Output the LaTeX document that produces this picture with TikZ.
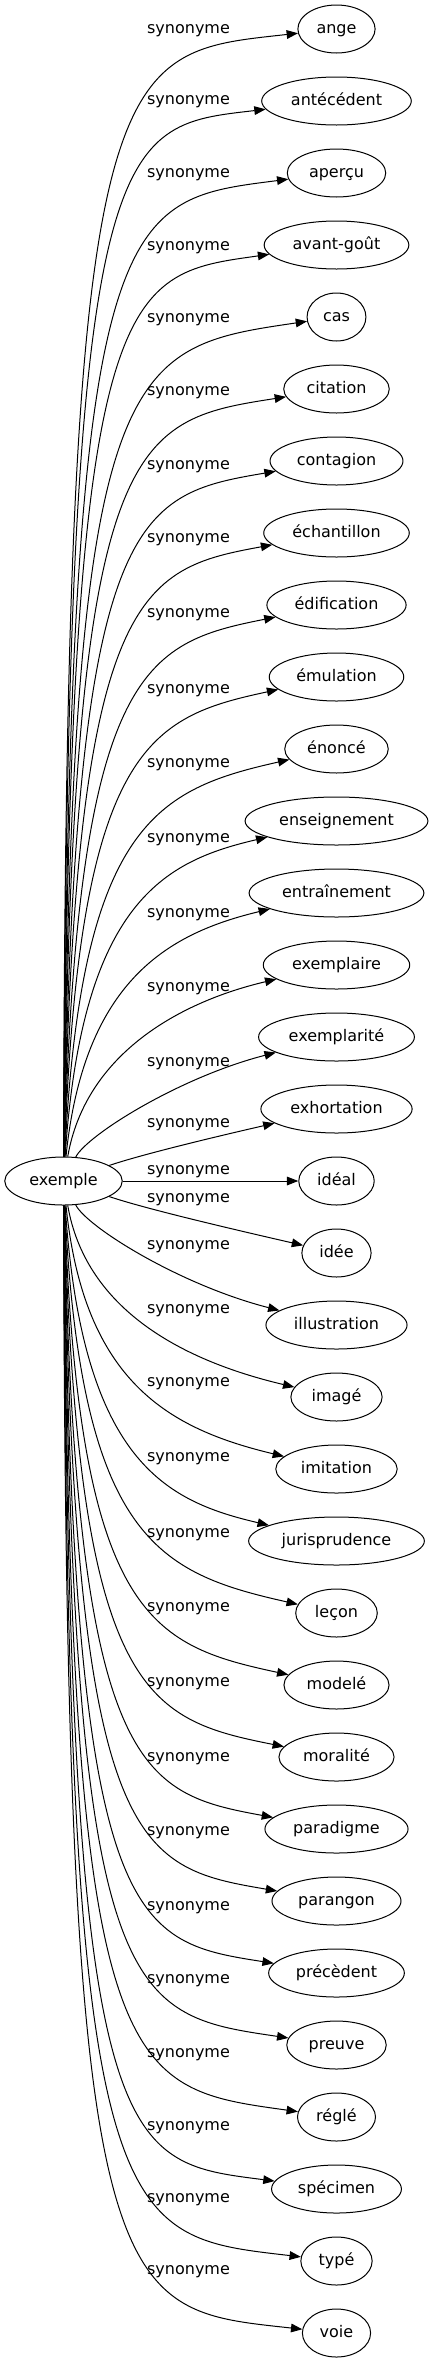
\documentclass[tikz,border=0pt]{standalone}
\usepackage{fontspec}
\setmainfont{DejaVu Sans}
\usetikzlibrary{shapes.geometric,arrows.meta}
\begin{document}
\begin{tikzpicture}
	[x=0.75pt,y=-0.75pt,
	 word/.style={ellipse,draw,line width=0.75pt,inner xsep=5.5pt,minimum height=36pt,text height=9pt,text depth=2.5pt,font=\fontsize{12pt}{14pt}\selectfont},
	 lbl/.style={inner sep=0pt,text height=9pt,text depth=2.5pt,font=\fontsize{12pt}{14pt}\selectfont},
	 syn/.style={line width=0.75pt,-{Triangle[length=8.5pt,width=6.5pt]}}]
    \useasboundingbox (0,0) rectangle (432,2363);

    \node[word] (ex) at (63.5,1181) {exemple};

    \node[word] (ange) at (336.5,29) {ange};
    \node[word] (antecedent) at (336.5,101) {antécédent};
    \node[word] (apercu) at (336.5,173) {aperçu};
    \node[word] (avantgout) at (336.5,245) {avant-goût};
    \node[word] (cas) at (336.5,317) {cas};
    \node[word] (citation) at (336.5,389) {citation};
    \node[word] (contagion) at (336.5,461) {contagion};
    \node[word] (echantillon) at (336.5,533) {échantillon};
    \node[word] (edification) at (336.5,605) {édification};
    \node[word] (emulation) at (336.5,677) {émulation};
    \node[word] (enonce) at (336.5,749) {énoncé};
    \node[word] (enseignement) at (336.5,821) {enseignement};
    \node[word] (entrainement) at (336.5,893) {entraînement};
    \node[word] (exemplaire) at (336.5,965) {exemplaire};
    \node[word] (exemplarite) at (336.5,1037) {exemplarité};
    \node[word] (exhortation) at (336.5,1109) {exhortation};
    \node[word] (ideal) at (336.5,1181) {idéal};
    \node[word] (idee) at (336.5,1253) {idée};
    \node[word] (illustration) at (336.5,1325) {illustration};
    \node[word] (image) at (336.5,1397) {imagé};
    \node[word] (imitation) at (336.5,1469) {imitation};
    \node[word] (jurisprudence) at (336.5,1541) {jurisprudence};
    \node[word] (lecon) at (336.5,1613) {leçon};
    \node[word] (modele) at (336.5,1685) {modelé};
    \node[word] (moralite) at (336.5,1757) {moralité};
    \node[word] (paradigme) at (336.5,1829) {paradigme};
    \node[word] (parangon) at (336.5,1901) {parangon};
    \node[word] (precedent) at (336.5,1973) {précèdent};
    \node[word] (preuve) at (336.5,2045) {preuve};
    \node[word] (regle) at (336.5,2117) {réglé};
    \node[word] (specimen) at (336.5,2189) {spécimen};
    \node[word] (type) at (336.5,2261) {typé};
    \node[word] (voie) at (336.5,2333) {voie};

    \node[lbl] (l1) at (188.5,29) {synonyme};
    \node[lbl] (l2) at (188.5,100) {synonyme};
    \node[lbl] (l3) at (188.5,173) {synonyme};
    \node[lbl] (l4) at (188.5,246) {synonyme};
    \node[lbl] (l5) at (188.5,318) {synonyme};
    \node[lbl] (l6) at (188.5,391) {synonyme};
    \node[lbl] (l7) at (188.5,465) {synonyme};
    \node[lbl] (l8) at (188.5,538) {synonyme};
    \node[lbl] (l9) at (188.5,613) {synonyme};
    \node[lbl] (l10) at (188.5,689) {synonyme};
    \node[lbl] (l11) at (188.5,763) {synonyme};
    \node[lbl] (l12) at (188.5,838) {synonyme};
    \node[lbl] (l13) at (188.5,913) {synonyme};
    \node[lbl] (l14) at (188.5,987) {synonyme};
    \node[lbl] (l15) at (188.5,1062) {synonyme};
    \node[lbl] (l16) at (188.5,1123) {synonyme};
    \node[lbl] (l17) at (188.5,1170) {synonyme};
    \node[lbl] (l18) at (188.5,1198) {synonyme};
    \node[lbl] (l19) at (188.5,1245) {synonyme};
    \node[lbl] (l20) at (188.5,1309) {synonyme};
    \node[lbl] (l21) at (188.5,1382) {synonyme};
    \node[lbl] (l22) at (188.5,1457) {synonyme};
    \node[lbl] (l23) at (188.5,1533) {synonyme};
    \node[lbl] (l24) at (188.5,1607) {synonyme};
    \node[lbl] (l25) at (188.5,1682) {synonyme};
    \node[lbl] (l26) at (188.5,1757) {synonyme};
    \node[lbl] (l27) at (188.5,1831) {synonyme};
    \node[lbl] (l28) at (188.5,1906) {synonyme};
    \node[lbl] (l29) at (188.5,1979) {synonyme};
    \node[lbl] (l30) at (188.5,2053) {synonyme};
    \node[lbl] (l31) at (188.5,2126) {synonyme};
    \node[lbl] (l32) at (188.5,2198) {synonyme};
    \node[lbl] (l33) at (188.5,2270) {synonyme};

    \draw[syn] (ex) .. controls (66,43) and (110,54) .. (ange);
    \draw[syn] (ex) .. controls (67,121) and (114,127) .. (antecedent);
    \draw[syn] (ex) .. controls (69,199) and (118,201) .. (apercu);
    \draw[syn] (ex) .. controls (70,277) and (121,275) .. (avantgout);
    \draw[syn] (ex) .. controls (72,355) and (125,348) .. (cas);
    \draw[syn] (ex) .. controls (73,433) and (130,421) .. (citation);
    \draw[syn] (ex) .. controls (75,511) and (135,495) .. (contagion);
    \draw[syn] (ex) .. controls (76,589) and (140,569) .. (echantillon);
    \draw[syn] (ex) .. controls (78,667) and (145,643) .. (edification);
    \draw[syn] (ex) .. controls (79,745) and (150,717) .. (emulation);
    \draw[syn] (ex) .. controls (81,823) and (158,789) .. (enonce);
    \draw[syn] (ex) .. controls (82,901) and (165,861) .. (enseignement);
    \draw[syn] (ex) .. controls (84,979) and (170,933) .. (entrainement);
    \draw[syn] (ex) .. controls (85,1057) and (175,1003) .. (exemplaire);
    \draw[syn] (ex) .. controls (87,1135) and (180,1077) .. (exemplarite);
    \draw[syn] (ex) .. controls (140,1155) and (210,1138) .. (exhortation);
    \draw[syn] (ex) -- (ideal);
    \draw[syn] (ex) .. controls (140,1207) and (210,1224) .. (idee);
    \draw[syn] (ex) .. controls (87,1227) and (180,1285) .. (illustration);
    \draw[syn] (ex) .. controls (85,1305) and (175,1359) .. (image);
    \draw[syn] (ex) .. controls (84,1383) and (170,1429) .. (imitation);
    \draw[syn] (ex) .. controls (82,1461) and (165,1501) .. (jurisprudence);
    \draw[syn] (ex) .. controls (81,1539) and (158,1573) .. (lecon);
    \draw[syn] (ex) .. controls (79,1617) and (150,1645) .. (modele);
    \draw[syn] (ex) .. controls (78,1695) and (145,1719) .. (moralite);
    \draw[syn] (ex) .. controls (76,1773) and (140,1793) .. (paradigme);
    \draw[syn] (ex) .. controls (75,1851) and (135,1867) .. (parangon);
    \draw[syn] (ex) .. controls (73,1929) and (130,1941) .. (precedent);
    \draw[syn] (ex) .. controls (72,2007) and (125,2014) .. (preuve);
    \draw[syn] (ex) .. controls (70,2085) and (121,2087) .. (regle);
    \draw[syn] (ex) .. controls (69,2163) and (118,2161) .. (specimen);
    \draw[syn] (ex) .. controls (67,2241) and (114,2235) .. (type);
    \draw[syn] (ex) .. controls (66,2319) and (110,2308) .. (voie);

\end{tikzpicture}
\end{document}
